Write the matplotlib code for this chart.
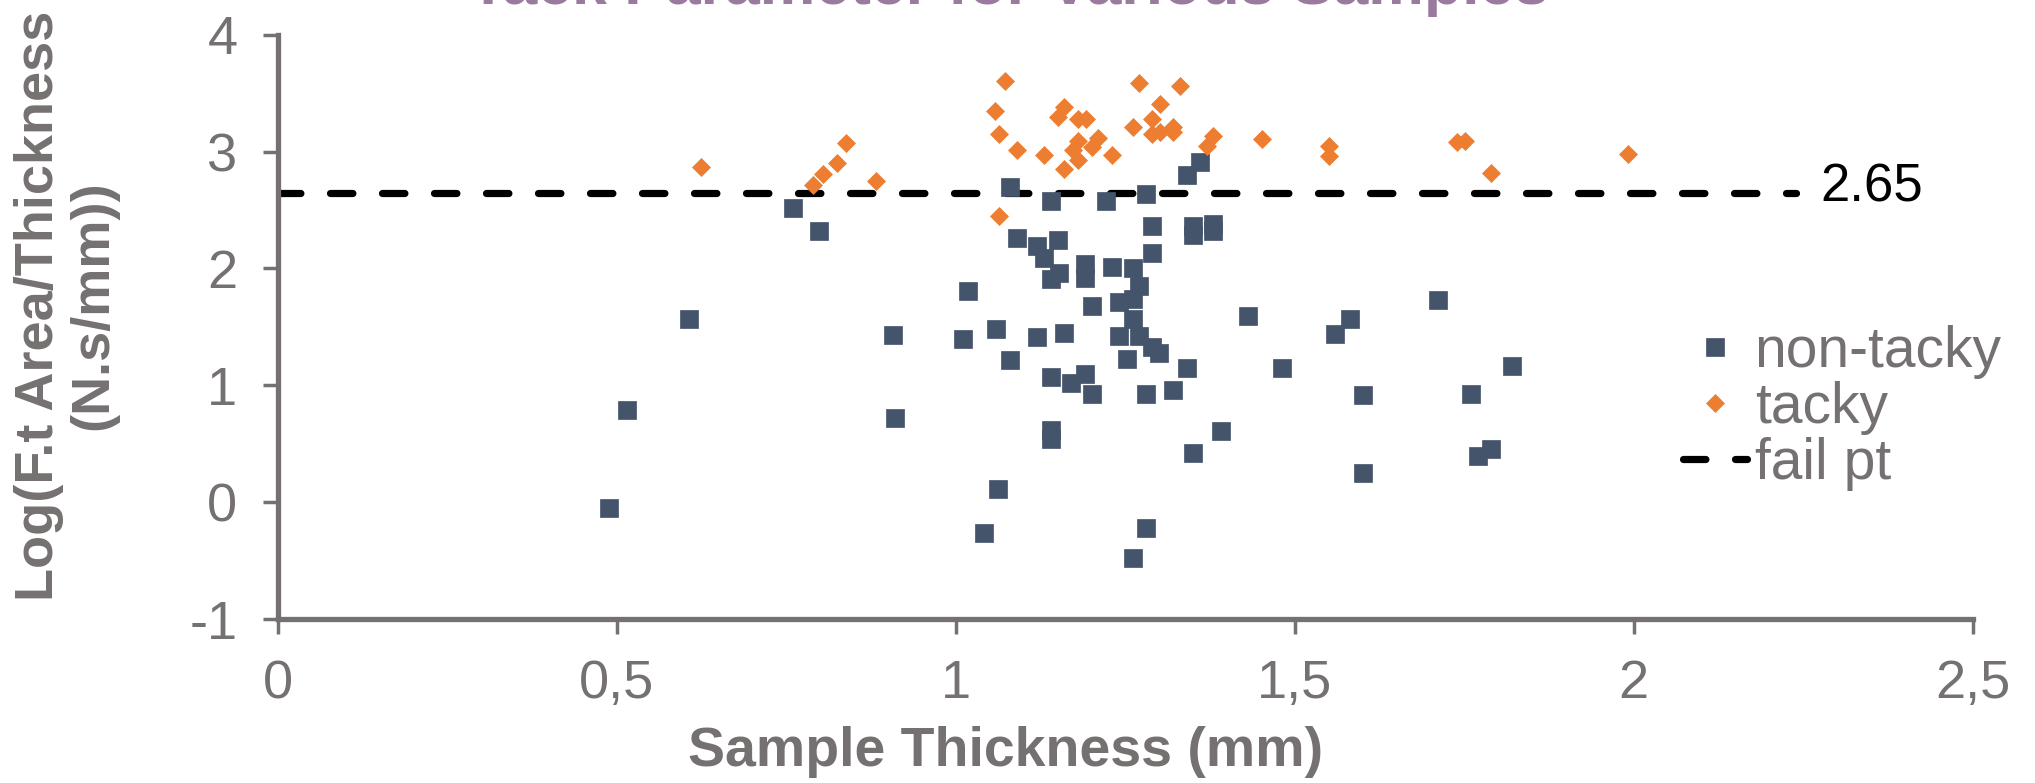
import matplotlib.pyplot as plt

plt.rcParams['font.family'] = ['Liberation Sans', 'DejaVu Sans']
plt.rcParams['axes.unicode_minus'] = False

# non-tacky samples (thickness mm, log tack parameter)
nontacky_thickness = [
    0.489, 0.515, 0.606, 0.760, 0.799, 0.907, 0.910, 1.010, 1.018, 1.041,
    1.060, 1.062, 1.080, 1.080, 1.091, 1.120, 1.120, 1.130, 1.141, 1.141,
    1.141, 1.141, 1.141, 1.151, 1.152, 1.160, 1.170, 1.191, 1.191, 1.191,
    1.201, 1.201, 1.221, 1.231, 1.241, 1.241, 1.253, 1.261, 1.261, 1.261,
    1.261, 1.271, 1.271, 1.281, 1.281, 1.281, 1.290, 1.290, 1.290, 1.300,
    1.320, 1.341, 1.341, 1.350, 1.350, 1.350, 1.360, 1.380, 1.380, 1.391,
    1.431, 1.481, 1.560, 1.581, 1.601, 1.601, 1.711, 1.760, 1.770, 1.790,
    1.820,
]
nontacky_log = [
    -0.05, 0.79, 1.57, 2.52, 2.32, 1.43, 0.72, 1.40, 1.81, -0.26,
    1.48, 0.11, 2.70, 1.22, 2.26, 2.19, 1.41, 2.09, 2.58, 1.91,
    1.07, 0.62, 0.54, 2.24, 1.96, 1.45, 1.02, 2.04, 1.92, 1.10,
    1.68, 0.93, 2.58, 2.01, 1.71, 1.42, 1.23, 2.00, 1.74, 1.57,
    -0.48, 1.85, 1.42, 2.64, 0.93, -0.22, 2.36, 2.13, 1.33, 1.28,
    0.96, 2.80, 1.15, 2.36, 2.29, 0.42, 2.91, 2.38, 2.32, 0.61,
    1.59, 1.15, 1.44, 1.57, 0.92, 0.25, 1.73, 0.93, 0.40, 0.46,
    1.17,
]

# tacky samples
tacky_thickness = [
    0.624, 0.790, 0.804, 0.825, 0.838, 0.882, 1.058, 1.064, 1.064, 1.073,
    1.090, 1.130, 1.151, 1.160, 1.160, 1.173, 1.180, 1.180, 1.180, 1.192,
    1.201, 1.210, 1.231, 1.261, 1.270, 1.290, 1.290, 1.301, 1.301, 1.320,
    1.320, 1.331, 1.370, 1.380, 1.451, 1.551, 1.551, 1.740, 1.751, 1.790,
    1.991,
]
tacky_log = [
    2.87, 2.71, 2.81, 2.90, 3.07, 2.75, 3.35, 3.15, 2.45, 3.60,
    3.01, 2.97, 3.30, 3.38, 2.85, 3.01, 3.28, 3.09, 2.93, 3.28,
    3.04, 3.12, 2.97, 3.21, 3.59, 3.28, 3.15, 3.41, 3.17, 3.21,
    3.17, 3.56, 3.05, 3.13, 3.11, 3.05, 2.96, 3.08, 3.09, 2.82,
    2.98,
]

# fail point line
fail_value = 2.65
fail_thickness = [0, 2.24]
fail_log = [fail_value, fail_value]

x_ticks = [0, 0.5, 1, 1.5, 2, 2.5]
x_tick_labels = ['0', '0,5', '1', '1,5', '2', '2,5']
y_ticks = [-1, 0, 1, 2, 3, 4]

grey = '#767171'
navy = '#44546A'
orange = '#ED7D31'

fig = plt.figure(figsize=(20.35, 7.83), dpi=100)
ax = fig.add_axes([0.1365, 0.2092, 0.8329, 0.7465])

h3, = ax.plot(fail_thickness, fail_log, color='black', lw=5.2, dashes=(3.1, 4.1),
              dash_capstyle='round', solid_capstyle='round', zorder=1, label='fail pt')
h1, = ax.plot(nontacky_thickness, nontacky_log, 's', ms=12.5, color=navy,
              mec=navy, mew=0.5, zorder=2, label='non-tacky')
h2, = ax.plot(tacky_thickness, tacky_log, 'D', ms=9.5, color=orange,
              mec=orange, mew=0.5, zorder=3, label='tacky')

ax.set_xlim(0, 2.5)
ax.set_ylim(-1, 4)
ax.set_xticks(x_ticks)
ax.set_xticklabels(x_tick_labels)
ax.set_yticks(y_ticks)

ax.spines['top'].set_visible(False)
ax.spines['right'].set_visible(False)
for side in ['left', 'bottom']:
    ax.spines[side].set_color(grey)
    ax.spines[side].set_linewidth(3.8)
ax.tick_params(direction='out', length=11, width=2.5, color=grey,
               labelcolor=grey, labelsize=39, pad=18)

ax.text(2.275, fail_value + 0.04, '2.65', fontsize=38, color='black',
        ha='left', va='center')

ax.legend(handles=[h1, h2, h3], loc='upper left', bbox_to_anchor=(0.829, 0.504),
          frameon=False, fontsize=41, labelcolor=grey, handlelength=1.12,
          handletextpad=0.14, labelspacing=0.035, borderpad=0, borderaxespad=0,
          numpoints=1)

# title sits mostly above the canvas, as in the original export
fig.text(0.496, 0.995, 'Tack Parameter for Various Samples', ha='center',
         va='baseline', fontsize=45, fontweight='bold', color='#9a7a9e')
fig.text(0.0324, 0.61, 'Log(F.t Area/Thickness\n(N.s/mm))', rotation=90,
         ha='center', va='center', multialignment='center', fontsize=39,
         fontweight='bold', color=grey, linespacing=1.1)
fig.text(0.4943, 0.0396, 'Sample Thickness (mm)', ha='center', va='center',
         fontsize=40, fontweight='bold', color=grey)

fig.savefig('out.png', dpi=100)
